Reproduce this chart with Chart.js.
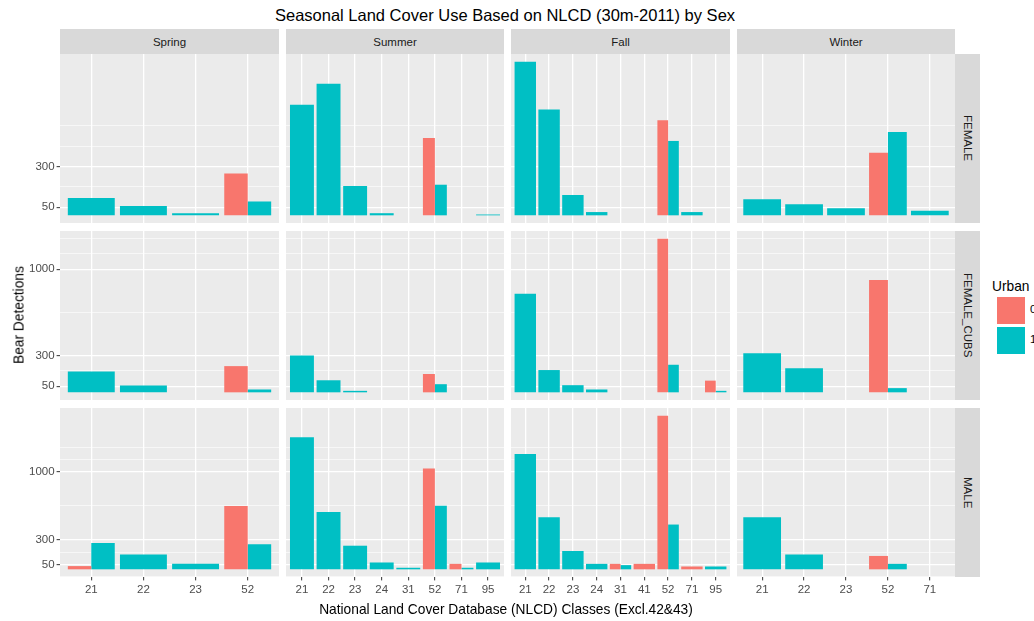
<!DOCTYPE html>
<html>
<head>
<meta charset="utf-8">
<script src="https://cdn.jsdelivr.net/npm/chart.js@4.4.1/dist/chart.umd.min.js"></script>
<style>
  body { margin: 0; background: #fff; font-family: "Liberation Sans", Arial, sans-serif; }
  #page { position: relative; width: 1034px; height: 621px; overflow: hidden; background: #fff; }
  .box { position: absolute; }
  .strip { position: absolute; background: #d9d9d9; color: #1a1a1a; font-size: 11.5px;
           display: flex; align-items: center; justify-content: center; }
  .strip.side span { writing-mode: vertical-rl; }
  .txt { position: absolute; white-space: nowrap; color: #000; }
</style>
</head>
<body>
<div id="page"></div>
<script>
'use strict'

// facets
const seasons = ['Spring', 'Summer', 'Fall', 'Winter']
const sexes = ['FEMALE', 'FEMALE_CUBS', 'MALE']

// NLCD classes per season column (free x)
const springClasses = ['21', '22', '23', '52']
const summerClasses = ['21', '22', '23', '24', '31', '52', '71', '95']
const fallClasses = ['21', '22', '23', '24', '31', '41', '52', '71', '95']
const winterClasses = ['21', '22', '23', '52', '71']

const yBreaks = [50, 300, 1000]

// Urban = 0 / Urban = 1, bear detections
const femaleSpring0 = [null, null, null, 257]
const femaleSpring1 = [107, 58, 13, 85]
const femaleSummer0 = [null, null, null, null, null, 475, null, null]
const femaleSummer1 = [680, 808, 180, 13, null, 188, null, 5]
const femaleFall0 = [null, null, null, null, null, null, 584, null, null]
const femaleFall1 = [944, 650, 125, 20, null, null, 457, 20, null]
const femaleWinter0 = [null, null, null, 385, null]
const femaleWinter1 = [99, 68, 44, 512, 28]

const cubsSpring0 = [null, null, null, 213]
const cubsSpring1 = [170, 55, null, 23]
const cubsSummer0 = [null, null, null, null, null, 149, null, null]
const cubsSummer1 = [299, 98, 12, null, null, 66, null, null]
const cubsFall0 = [null, null, null, null, null, null, 1249, null, 95]
const cubsFall1 = [801, 181, 58, 23, null, null, 224, null, 12]
const cubsWinter0 = [null, null, null, 914, null]
const cubsWinter1 = [318, 195, null, 34, null]

const maleSpring0 = [33, null, null, 648]
const maleSpring1 = [270, 151, 56, 257]
const maleSummer0 = [null, null, null, null, null, 1033, 56, null]
const maleSummer1 = [1354, 587, 242, 70, 16, 651, 16, 70]
const maleFall0 = [null, null, null, null, 56, 56, 1575, 29, null]
const maleFall1 = [1182, 533, 188, 56, 43, null, 459, null, 29]
const maleWinter0 = [null, null, null, 137, null]
const maleWinter1 = [533, 151, null, 56, null]

const classes = [springClasses, summerClasses, fallClasses, winterClasses]
const urban0 = [
  [femaleSpring0, femaleSummer0, femaleFall0, femaleWinter0],
  [cubsSpring0, cubsSummer0, cubsFall0, cubsWinter0],
  [maleSpring0, maleSummer0, maleFall0, maleWinter0]
]
const urban1 = [
  [femaleSpring1, femaleSummer1, femaleFall1, femaleWinter1],
  [cubsSpring1, cubsSummer1, cubsFall1, cubsWinter1],
  [maleSpring1, maleSummer1, maleFall1, maleWinter1]
]

// layout
const colLeft = [60, 286, 511, 737]
const colWidth = [219, 218, 219, 218]
const rowTop = [54, 231, 408]
const rowHeight = 169
const stripSize = 25
const yAxisWidth = 60
const xAxisHeight = 26

Chart.defaults.font.family = '"Liberation Sans", Arial, sans-serif'

const page = document.getElementById('page')

const panelBg = {
  id: 'panelBg',
  beforeDraw(chart) {
    const a = chart.chartArea
    const ctx = chart.ctx
    ctx.save()
    ctx.fillStyle = '#ebebeb'
    ctx.fillRect(a.left, a.top, a.right - a.left, a.bottom - a.top)
    ctx.restore()
  }
}

// ggplot-like minor breaks: midpoints plus one step past the outer breaks
function gridValues(lo, hi) {
  const b = yBreaks.filter(v => v >= lo && v <= hi)
  const step = b[1] - b[0]
  if (lo < b[0]) b.unshift(b[0] - step)
  if (hi > b[b.length - 1]) b.push(b[b.length - 1] + step)
  const all = []
  for (let i = 0; i < b.length; i++) {
    all.push(b[i])
    if (i < b.length - 1) all.push((b[i] + b[i + 1]) / 2)
  }
  return all.filter(v => v >= lo && v <= hi)
}

function rowMax(r) {
  let m = 0
  for (let c = 0; c < 4; c++) {
    urban0[r][c].concat(urban1[r][c]).forEach(v => { if (v != null && v > m) m = v })
  }
  return m
}

function makePanel(r, c) {
  const cats = classes[c]
  const isLeft = c === 0
  const isBottom = r === 2
  const top = rowMax(r)
  const lo = -0.05 * top
  const hi = 1.05 * top
  const yGrid = gridValues(lo, hi)

  const w = colWidth[c] + (isLeft ? yAxisWidth : 0)
  const h = rowHeight + (isBottom ? xAxisHeight : 0)
  const holder = document.createElement('div')
  holder.className = 'box'
  holder.style.left = (colLeft[c] - (isLeft ? yAxisWidth : 0)) + 'px'
  holder.style.top = rowTop[r] + 'px'
  const canvas = document.createElement('canvas')
  canvas.width = w
  canvas.height = h
  canvas.style.width = w + 'px'
  canvas.style.height = h + 'px'
  holder.appendChild(canvas)
  page.appendChild(holder)

  new Chart(canvas, {
    type: 'bar',
    data: {
      datasets: [{
        label: '0',
        data: cats.map((k, i) => ({ x: i + 1, y: urban0[r][c][i] })),
        backgroundColor: '#F8766D',
        skipNull: true,
        borderWidth: 0
      }, {
        label: '1',
        data: cats.map((k, i) => ({ x: i + 1, y: urban1[r][c][i] })),
        backgroundColor: '#00BFC4',
        skipNull: true,
        borderWidth: 0
      }]
    },
    options: {
      responsive: false,
      animation: false,
      events: [],
      layout: { padding: 0 },
      categoryPercentage: 0.9,
      barPercentage: 1,
      plugins: { legend: { display: false }, tooltip: { enabled: false } },
      scales: {
        x: {
          type: 'linear',
          min: 0.4,
          max: cats.length + 0.6,
          bounds: 'data',
          offset: false,
          afterBuildTicks: s => { s.ticks = cats.map((k, i) => ({ value: i + 1 })) },
          afterFit: s => { s.height = isBottom ? xAxisHeight : 0; s.paddingLeft = 0; s.paddingRight = 0 },
          grid: { color: '#ffffff', lineWidth: 1.3, drawTicks: isBottom, tickLength: 3.4, tickColor: '#333333', tickWidth: 1, offset: false },
          border: { display: false },
          ticks: {
            display: isBottom, autoSkip: false, maxRotation: 0, minRotation: 0, padding: 3,
            color: '#4d4d4d', font: { size: 11.5 },
            callback: (v, i) => cats[i]
          }
        },
        y: {
          type: 'linear',
          min: lo,
          max: hi,
          bounds: 'data',
          afterBuildTicks: s => { s.ticks = yGrid.map(v => ({ value: v })) },
          afterFit: s => { s.width = isLeft ? yAxisWidth : 0; s.paddingTop = 0; s.paddingBottom = 0 },
          grid: {
            color: '#ffffff',
            lineWidth: ctx => (ctx.tick && yBreaks.includes(ctx.tick.value)) ? 1.3 : 0.6,
            drawTicks: isLeft,
            tickLength: 3.4,
            tickWidth: 1,
            tickColor: ctx => (ctx.tick && yBreaks.includes(ctx.tick.value)) ? '#333333' : 'rgba(0,0,0,0)'
          },
          border: { display: false },
          ticks: {
            display: isLeft, autoSkip: false, padding: 2,
            color: '#4d4d4d', font: { size: 11.5 },
            callback: v => yBreaks.includes(v) ? String(v) : ''
          }
        }
      }
    },
    plugins: [panelBg]
  })
}

function addText(text, css) {
  const d = document.createElement('div')
  d.className = 'txt'
  d.textContent = text
  Object.assign(d.style, css)
  page.appendChild(d)
  return d
}

// season strips
seasons.forEach((s, c) => {
  const d = document.createElement('div')
  d.className = 'strip'
  d.style.left = colLeft[c] + 'px'
  d.style.top = (rowTop[0] - stripSize) + 'px'
  d.style.width = colWidth[c] + 'px'
  d.style.height = stripSize + 'px'
  d.textContent = s
  page.appendChild(d)
})

// sex strips
const stripX = colLeft[3] + colWidth[3]
sexes.forEach((s, r) => {
  const d = document.createElement('div')
  d.className = 'strip side'
  d.style.left = stripX + 'px'
  d.style.top = rowTop[r] + 'px'
  d.style.width = stripSize + 'px'
  d.style.height = rowHeight + 'px'
  const sp = document.createElement('span')
  sp.textContent = s
  d.appendChild(sp)
  page.appendChild(d)
})

for (let r = 0; r < 3; r++) {
  for (let c = 0; c < 4; c++) makePanel(r, c)
}

// titles
addText('Seasonal Land Cover Use Based on NLCD (30m-2011) by Sex',
  { left: '505px', top: '6px', fontSize: '16.5px', transform: 'translateX(-50%)' })
addText('National Land Cover Database (NLCD) Classes (Excl.42&43)',
  { left: '506px', top: '602px', fontSize: '13.75px', transform: 'translateX(-50%)' })
addText('Bear Detections',
  { left: '19px', top: '315px', fontSize: '13.75px', transform: 'translate(-50%,-50%) rotate(-90deg)' })

// legend
addText('Urban', { left: '992px', top: '279px', fontSize: '13.75px' })
const legendColors = ['#F8766D', '#00BFC4']
const legendLabels = ['0', '1']
legendColors.forEach((col, i) => {
  const k = document.createElement('div')
  k.className = 'box'
  k.style.left = '997px'
  k.style.top = (297 + i * 30) + 'px'
  k.style.width = '28px'
  k.style.height = '27px'
  k.style.background = col
  page.appendChild(k)
  addText(legendLabels[i], { left: '1030px', top: (303 + i * 30) + 'px', fontSize: '11.5px' })
})
</script>
</body>
</html>
